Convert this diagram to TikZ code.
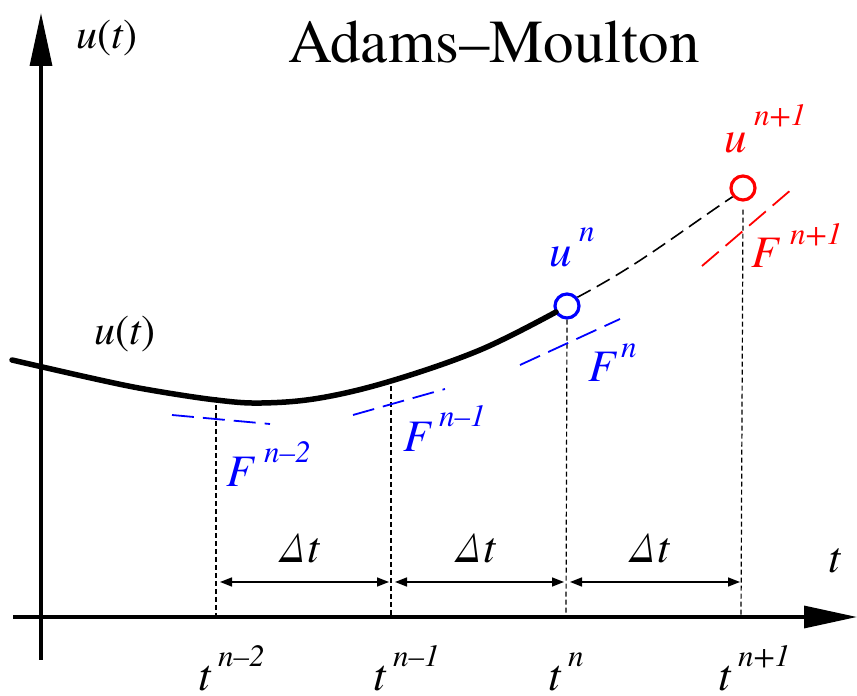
\documentclass[tikz,border=0pt]{standalone}
\usepackage{fontspec}
\setmainfont{texgyretermes}[Extension=.otf, UprightFont=*-regular, ItalicFont=*-italic, BoldFont=*-bold, BoldItalicFont=*-bolditalic]
\newfontfamily\tnr{texgyretermes}[Extension=.otf, UprightFont=*-regular, ItalicFont=*-italic, BoldFont=*-bold, BoldItalicFont=*-bolditalic]
\usetikzlibrary{arrows.meta}
\tikzset{
  x=1pt, y=1pt,
  axis/.style={line width=3.3pt, -{Triangle[length=53pt,width=22pt]}},
  curve/.style={line width=5.5pt},
  guide/.style={line width=1.2pt, dash pattern=on 5pt off 3pt},
  tangent/.style={line width=1.8pt, dash pattern=on 22pt off 9pt},
  dt/.style={line width=1.5pt, {Triangle[length=12pt,width=9pt]}-{Triangle[length=12pt,width=9pt]}},
  pt/.style={circle, draw, line width=3.2pt, minimum size=24pt, inner sep=0pt, fill=white},
  lab/.style={inner sep=0pt, anchor=base west, font=\tnr\fontsize{45}{45}\selectfont\itshape},
  sup/.style={inner sep=0pt, anchor=base west, font=\tnr\fontsize{31}{31}\selectfont\itshape},
  dtl/.style={inner sep=0pt, anchor=base, font=\tnr\fontsize{44}{44}\selectfont\itshape},
}
\definecolor{myblue}{RGB}{0,0,255}
\definecolor{myred}{RGB}{255,0,0}
\begin{document}
\begin{tikzpicture}
\useasboundingbox (0,0) rectangle (857,696);
% axes
\coordinate (yb) at (41,36);
\coordinate (yt) at (41,683);
\coordinate (xl) at (13,79);
\coordinate (xr) at (857,79);
\draw[axis] (yb) -- (yt);
\draw[axis] (xl) -- (xr);
% title
\node[inner sep=0pt, anchor=base, font=\tnr\fontsize{61}{61}\selectfont] (title) at (494,633) {Adams–Moulton};
\node[inner sep=0pt, anchor=base west, font=\tnr\fontsize{42}{42}\selectfont] (ylab) at (76,647) {\textit{u}(\textit{t})};
\node[inner sep=0pt, anchor=base west, font=\tnr\fontsize{42}{42}\selectfont] (clab) at (94,351) {\textit{u}(\textit{t})};
\node[inner sep=0pt, anchor=base, font=\tnr\fontsize{44}{44}\selectfont\itshape] (tlab) at (835,123) {t};
% points
\node[pt, draw=myblue] (un) at (567,390) {};
\node[pt, draw=myred] (un1) at (743,508) {};
% vertical guides
\coordinate (g1t) at (216,299); \coordinate (g1b) at (216,79);
\coordinate (g2t) at (391,310); \coordinate (g2b) at (391,79);
\coordinate (g4b) at (741,79);
\coordinate (g3b) at (566,79);
\draw[guide] (g1t) -- (g1b);
\draw[guide] (g2t) -- (g2b);
\draw[guide] (un.south) -- (g3b);
\draw[guide] ([yshift=-8pt]un1.south) -- (g4b);
% solid curve
\draw[curve, line cap=round] plot[smooth, tension=0.6] coordinates {(12,336) (100,316) (150,306) (216,296) (262,293) (320,298) (391,315) (480,346) (556,384)};
% dashed continuation
\draw[line width=1.6pt, dash pattern=on 15pt off 7pt] (un.40) to[out=28, in=214] (un1.220);
% tangents
\coordinate (a1) at (172,281); \coordinate (a2) at (270,272);
\coordinate (b1) at (353,281); \coordinate (b2) at (445,307);
\coordinate (c1) at (520,331); \coordinate (c2) at (620,377);
\coordinate (d1) at (702,430); \coordinate (d2) at (792,507);
\draw[tangent, myblue] (a1) -- (a2);
\draw[tangent, myblue] (b1) -- (b2);
\draw[tangent, myblue] (c1) -- (c2);
\draw[tangent, myred] (d1) -- (d2);
% F labels
\node[lab, text=myblue] (F2) at (226,209) {F};
\node[sup, text=myblue] (F2s) at (264,233) {n–2};
\node[lab, text=myblue] (F1) at (403,244) {F};
\node[sup, text=myblue] (F1s) at (439,269) {n–1};
\node[lab, text=myblue] (F0) at (588,314) {F};
\node[sup, text=myblue] (F0s) at (621,338) {n};
\node[lab, text=myred] (Fp) at (751,428) {F};
\node[sup, text=myred] (Fps) at (790,451) {n+1};
% u labels
\node[lab, text=myblue] (ul) at (549,429) {u};
\node[sup, text=myblue] (uls) at (579,454) {n};
\node[lab, text=myred] (ur) at (724,543) {u};
\node[sup, text=myred] (urs) at (754,570) {n+1};
% delta t arrows
\coordinate (p1) at (220,114); \coordinate (p2) at (389,114);
\coordinate (q1) at (395,114); \coordinate (q2) at (564,114);
\coordinate (r1) at (570,114); \coordinate (r2) at (740,114);
\draw[dt] (p1) -- (p2);
\draw[dt] (q1) -- (q2);
\draw[dt] (r1) -- (r2);
\node[dtl] (dt1) at (299,133) {Δt};
\node[dtl] (dt2) at (475,133) {Δt};
\node[dtl] (dt3) at (649,133) {Δt};
% tick labels
\node[lab] (t1) at (198,5) {t};
\node[sup] (t1s) at (218,29) {n–2};
\node[lab] (t2) at (373,5) {t};
\node[sup] (t2s) at (393,29) {n–1};
\node[lab] (t3) at (548,5) {t};
\node[sup] (t3s) at (568,29) {n};
\node[lab] (t4) at (718,5) {t};
\node[sup] (t4s) at (738,29) {n+1};
\end{tikzpicture}
\end{document}
